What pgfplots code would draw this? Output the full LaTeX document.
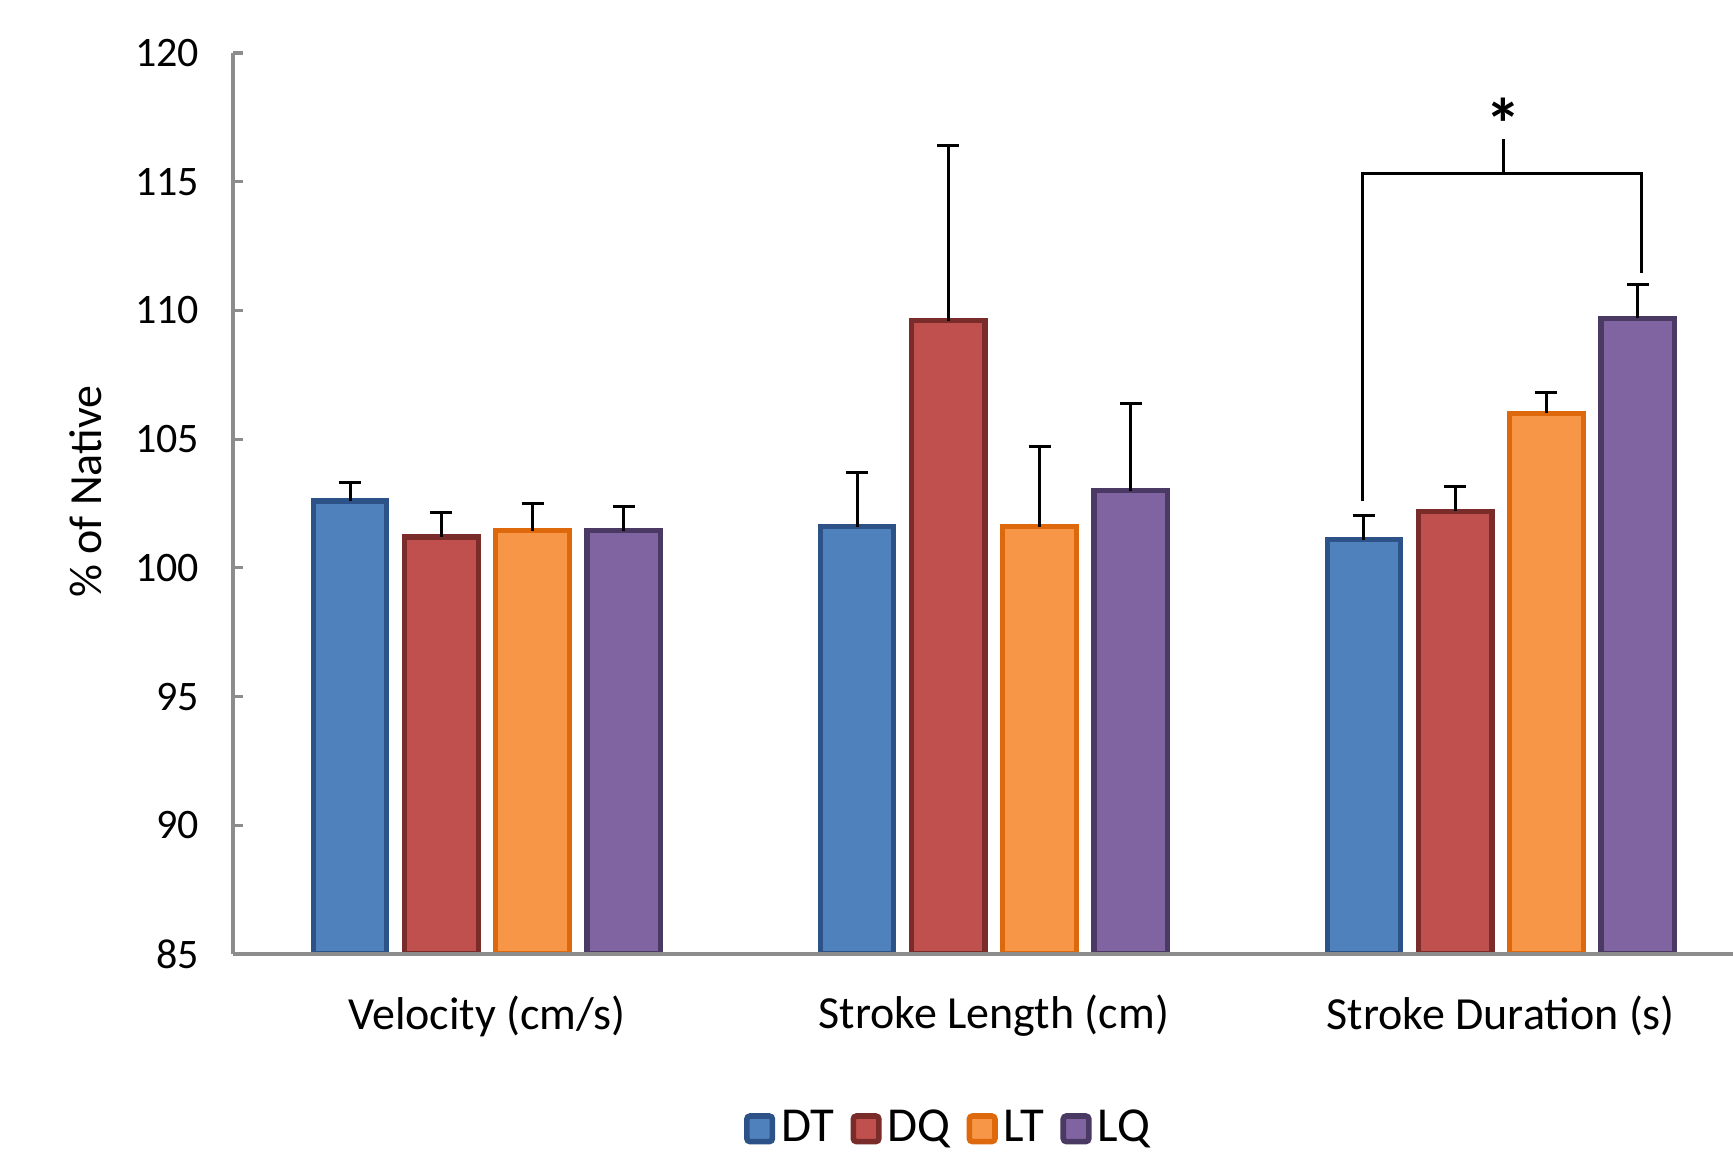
\documentclass[border=0pt]{standalone}
\usepackage{fontspec}
\setmainfont{Carlito}
\usepackage{pgfplots}
\usepackage{pgfplotstable}
\pgfplotsset{compat=1.18}
\definecolor{dtf}{HTML}{4F81BD}
\definecolor{dtd}{HTML}{2C5287}
\definecolor{dqf}{HTML}{C0504D}
\definecolor{dqd}{HTML}{7A2C2A}
\definecolor{ltf}{HTML}{F79646}
\definecolor{ltd}{HTML}{DE680C}
\definecolor{lqf}{HTML}{8064A2}
\definecolor{lqd}{HTML}{4A3A63}
\definecolor{axgray}{HTML}{8C8C8C}

\pgfplotstableread{
x y e
-0.27 102.6 0.7
0.73 101.6 2.1
1.73 101.1 0.95
}\dtdata
\pgfplotstableread{
x y e
-0.09 101.2 0.95
0.91 109.6 6.8
1.91 102.2 0.95
}\dqdata
\pgfplotstableread{
x y e
0.09 101.45 1.05
1.09 101.6 3.1
2.09 106.0 0.8
}\ltdata
\pgfplotstableread{
x y e
0.27 101.45 0.95
1.27 103.0 3.4
2.27 109.7 1.3
}\lqdata

\begin{document}
\begin{tikzpicture}
\begin{axis}[
  name=ax,
  scale only axis,
  width=375pt, height=225.25pt,
  xmin=-0.501, xmax=2.458,
  ymin=85, ymax=120,
  ytick={85,90,...,120},
  xtick={0,1,2},
  xticklabels={Velocity (cm/s), Stroke Length (cm), Stroke Duration (s)},
  axis lines*=left,
  axis on top,
  axis line style={draw=axgray, line width=0.8pt},
  tick align=inside,
  major tick length=2.5pt,
  xtick style={draw=none},
  ytick style={draw=axgray, line width=0.8pt},
  /pgf/number format/assume math mode=true,
  yticklabel style={font=\fontsize{10.5}{12}\selectfont, xshift=-5pt},
  xticklabel style={font=\fontsize{11.5}{13}\selectfont, anchor=center, yshift=-15.5pt},
  ylabel={\% of Native},
  ylabel style={font=\fontsize{11.5}{13}\selectfont, at={(axis description cs:-0.098,0.513)}, anchor=center},
  legend columns=4,
  legend style={at={(axis description cs:0.478,-0.194)}, anchor=center, draw=none,
    font=\fontsize{12.2}{14}\selectfont,
    nodes={inner sep=1.5pt},
    /tikz/every even column/.append style={column sep=2.5pt}},
  legend image code/.code={\draw[#1, line width=1.4pt, rounded corners=0.8pt] (0.7pt,-3.2pt) rectangle (7.1pt,3.2pt);},
  every axis plot/.append style={ybar, bar width=0.145, bar shift=0pt, line width=1.3pt,
    error bars/y dir=plus, error bars/y explicit,
    error bars/error bar style={black, line width=0.75pt},
    error bars/error mark options={black, line width=0.75pt, mark size=2.75pt, rotate=90}},
]
\addplot[fill=dtf, draw=dtd] table[x=x, y=y, y error=e] {\dtdata};
\addplot[fill=dqf, draw=dqd] table[x=x, y=y, y error=e] {\dqdata};
\addplot[fill=ltf, draw=ltd] table[x=x, y=y, y error=e] {\ltdata};
\addplot[fill=lqf, draw=lqd] table[x=x, y=y, y error=e] {\lqdata};
\legend{DT,DQ,LT,LQ}
\draw[black, line width=0.75pt] (axis cs:1.728,102.6) |- (axis cs:2.278,115.3) -- (axis cs:2.278,111.45);
\draw[black, line width=0.75pt] (axis cs:2.006,115.3) -- (axis cs:2.006,116.64);
\node[font=\bfseries\fontsize{18}{18}\selectfont] at (axis cs:2.006,117.25) {*};
\end{axis}
\pgfresetboundingbox
\path[use as bounding box] (-58.25pt,-50.25pt) rectangle (375pt,238.5pt);
\end{tikzpicture}
\end{document}
